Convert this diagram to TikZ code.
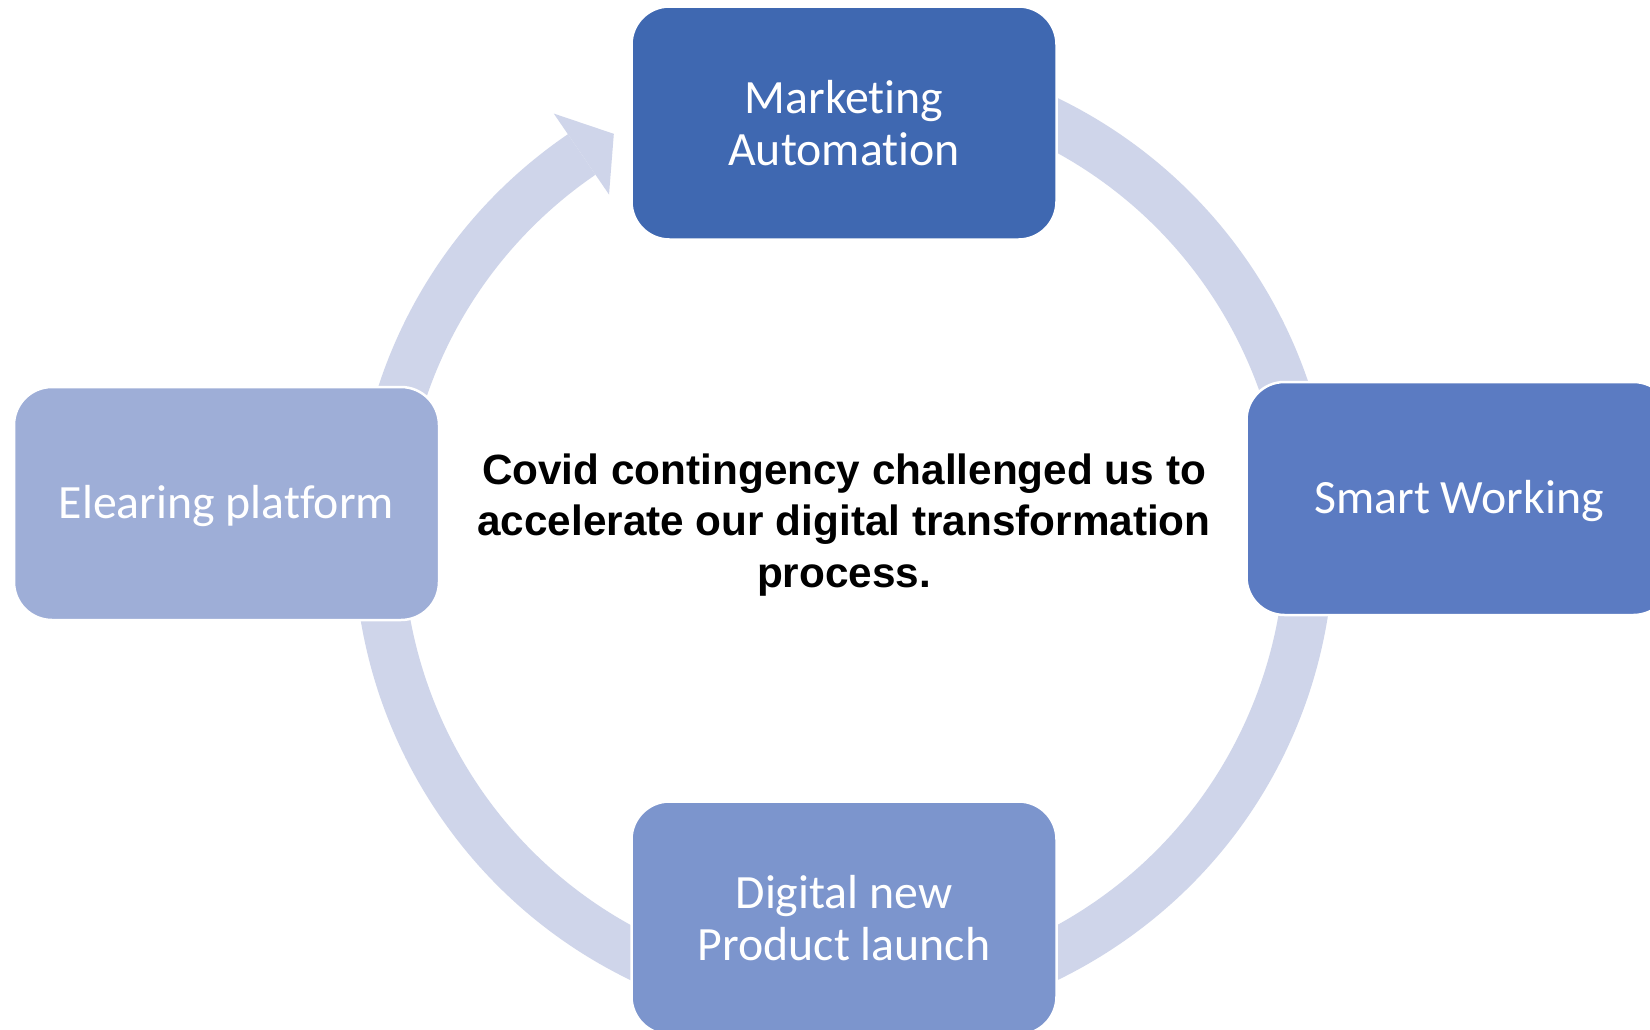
\documentclass[tikz,border=0pt]{standalone}
\usepackage{fontspec}
\setmainfont{Carlito}[Ligatures=NoCommon]
\newfontfamily\arialfont{Liberation Sans}
\definecolor{ringc}{HTML}{CFD5EA}
\definecolor{topc}{HTML}{3F68B1}
\definecolor{rightc}{HTML}{5B7BC2}
\definecolor{bottomc}{HTML}{7C95CD}
\definecolor{leftc}{HTML}{9EAED7}
\tikzset{
  box/.style={rectangle, rounded corners=38pt, minimum width=425pt, minimum height=233pt,
    inner sep=0pt, draw=white, line width=2.5pt, text=white, align=center,
    font={\fontsize{47.8}{52.6}\selectfont}},
  oneline/.style={text height=39pt, text depth=10pt},
  centertext/.style={align=center, text=black, font={\arialfont\bfseries\fontsize{42.3}{51.6}\selectfont}}
}
\begin{document}
\begin{tikzpicture}[x=1pt,y=1pt]
\useasboundingbox (0,0) rectangle (1650,-1029);
\clip (0,0) rectangle (1650,-1029);
\fill[white] (0,0) rectangle (1650,-1029);
\coordinate (c) at (844,-539);
% cycle ring with arrow
\begin{scope}[shift={(c)}]
\fill[ringc] (124.3:490) arc[start angle=124.3, end angle=428, radius=490pt]
  -- (428:441) arc[start angle=428, end angle=124.3, radius=441pt] -- cycle;
\fill[ringc] (124.3:515) -- (119.6:466) -- (124.3:417) -- cycle;
\end{scope}
% boxes
\node[box, fill=topc] (mkt) at (844,-123) {Marketing\\Automation};
\node[box, oneline, fill=rightc] (smart) at (1459,-498.5) {Smart Working};
\node[box, fill=bottomc] (digital) at (844,-918) {Digital new\\Product launch};
\node[box, oneline, fill=leftc] (elearn) at (226.5,-503.5) {Elearing platform};
% center text
\node[centertext] (ctr) at (844,-525) {Covid contingency challenged us to\\accelerate our digital transformation\\process.};
\end{tikzpicture}
\end{document}
